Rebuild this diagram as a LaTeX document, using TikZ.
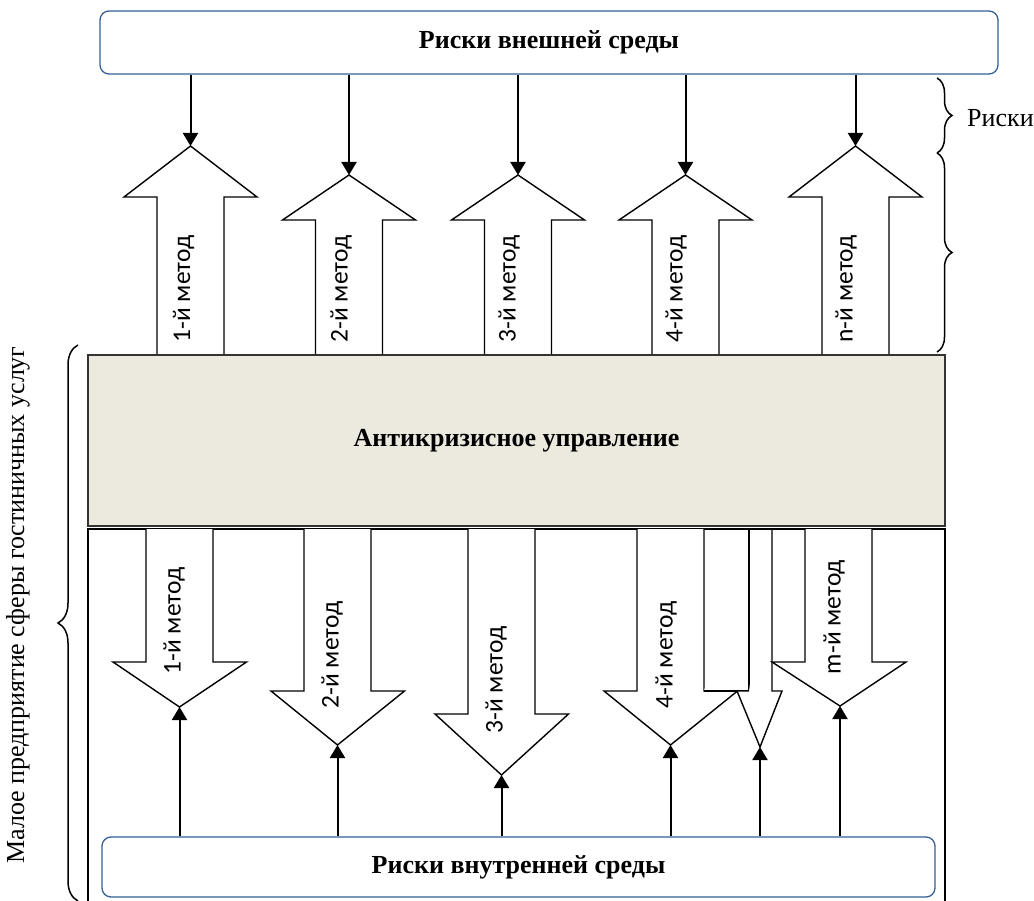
\documentclass[tikz,border=0pt]{standalone}
\usepackage{fontspec}
\setmainfont{Liberation Serif}
\newfontfamily\lblfont{Carlito}
\usetikzlibrary{arrows.meta,decorations.pathreplacing}
\definecolor{riskblue}{RGB}{52,96,150}
\definecolor{beige}{RGB}{236,233,223}
\begin{document}
\begin{tikzpicture}[x=1pt,y=-1pt,
  riskbox/.style={draw=riskblue, line width=1.3pt, rounded corners=9pt, fill=white,
    font=\fontsize{26}{30}\selectfont\bfseries, inner sep=0pt},
  mainbox/.style={draw=black!80, line width=1.3pt, fill=beige,
    font=\fontsize{26}{30}\selectfont\bfseries, inner sep=0pt},
  blockarrow/.style={draw=black, line width=1.4pt, fill=white, line join=miter},
  framestyle/.style={draw=black, line width=1.4pt},
  thinarrow/.style={draw=black, line width=2pt, -{Triangle[width=15pt,length=13pt]}},
  meth/.style={font=\lblfont\fontsize{25.5}{28}\selectfont, rotate=90, inner sep=0pt},
  curlyb/.style={draw=black, line width=1.5pt, decorate},
  sidelabel/.style={font=\fontsize{26}{30}\selectfont, inner sep=0pt}
]
\useasboundingbox (0,0) rectangle (1034,901);

% external risks box
\node[riskbox, minimum width=898pt, minimum height=63pt] (top) at (549,42.5) {Риски внешней среды};

% up block arrows (center x, head base y, tip y)
\foreach \n/\cx/\hb/\tp in {1/190.5/197/146, 2/349/220/175, 3/518/220/175, 4/685.5/220/175, 5/855.5/197/146}{
  \draw[blockarrow] (\cx-33.5,356) -- (\cx-33.5,\hb) -- (\cx-66.5,\hb) -- (\cx,\tp)
     -- (\cx+66.5,\hb) -- (\cx+33.5,\hb) -- (\cx+33.5,356);
  \coordinate (ut\n) at (\cx,\tp);
}
\foreach \n in {1,...,5}{
  \draw[thinarrow] (top.south -| ut\n) -- (ut\n);
}
\node[meth] (ul1) at (183.5,289) {1-й метод};
\node[meth] (ul2) at (341,289) {2-й метод};
\node[meth] (ul3) at (509,289) {3-й метод};
\node[meth] (ul4) at (676,289) {4-й метод};
\node[meth] (ul5) at (846,289) {n-й метод};

% lower frame
\draw[framestyle] (88,901) -- (88,529) -- (945,529) -- (945,901);

% down block arrows
\foreach \n/\cx/\hb/\tp in {1/179.5/662/707, 2/337.5/691/745, 3/501.5/714/775, 4/670.5/691/745}{
  \draw[blockarrow] (\cx-33.5,529) -- (\cx-33.5,\hb) -- (\cx-66.5,\hb) -- (\cx,\tp)
     -- (\cx+67,\hb) -- (\cx+33.5,\hb) -- (\cx+33.5,529);
  \coordinate (dt\n) at (\cx,\tp);
}
% extra rectangle and narrow arrow
\draw[blockarrow] (704,691) -- (749,691) -- (749,529);
\draw[blockarrow] (749,691) -- (737,691) -- (760,747) -- (782,691) -- (772,691) -- (772,529);
\coordinate (dt5) at (760,747);
% m-th arrow
\draw[blockarrow] (805,529) -- (805,662) -- (772,662) -- (840,706) -- (906,662) -- (872,662) -- (872,529);
\coordinate (dt6) at (840,706);

\node[meth] (dl1) at (174,621) {1-й метод};
\node[meth] (dl2) at (332,655) {2-й метод};
\node[meth] (dl3) at (496,680) {3-й метод};
\node[meth] (dl4) at (666,655) {4-й метод};
\node[meth] (dl6) at (834,617) {m-й метод};

% crisis management box
\node[mainbox, minimum width=857pt, minimum height=171pt] (mgmt) at (516.5,440.5) {Антикризисное управление};

% internal risks box
\node[riskbox, minimum width=833pt, minimum height=60pt] (bot) at (518.5,867) {Риски внутренней среды};
\foreach \n in {1,...,6}{
  \draw[thinarrow] (bot.north -| dt\n) -- (dt\n);
}

% braces
\draw[curlyb, decoration={brace, amplitude=15pt}] (937,78) -- (937,153);
\draw[curlyb, decoration={brace, amplitude=15pt}] (937,153) -- (937,352);
\node[sidelabel, anchor=west] (risk) at (967,118) {Риски};
\draw[curlyb, decoration={brace, amplitude=20pt}] (78,901) -- (78,345);
\node[sidelabel, rotate=90] (firm) at (18,605) {Малое предприятие сферы гостиничных услуг};
\end{tikzpicture}
\end{document}
